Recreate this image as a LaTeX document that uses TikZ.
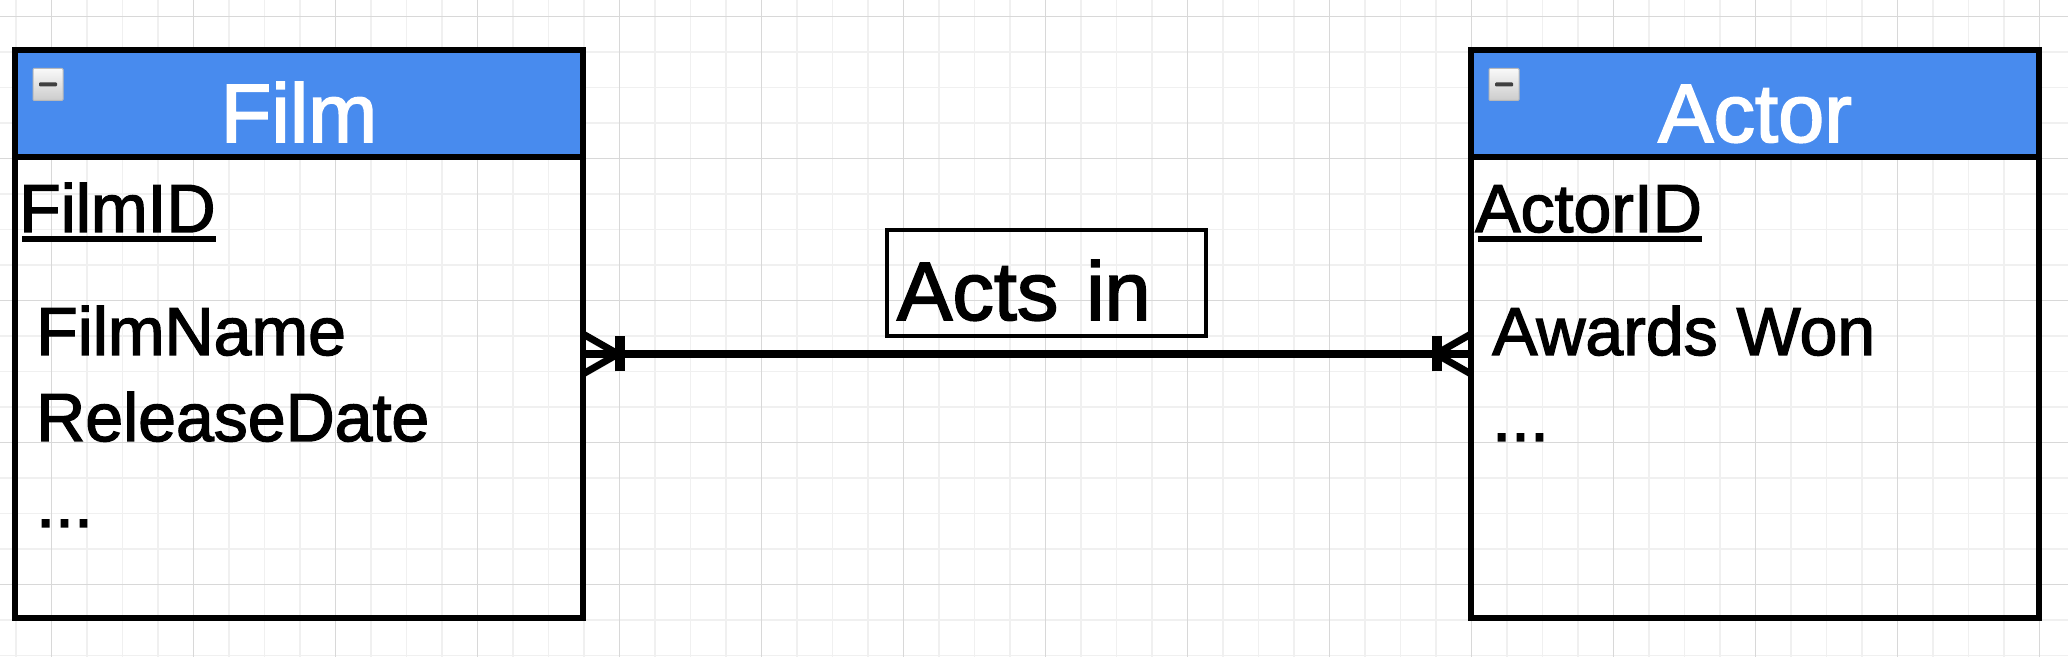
\documentclass[tikz,border=0pt]{standalone}
\usepackage{fontspec}
\setmainfont{Liberation Sans}[FakeBold=2]
\usetikzlibrary{positioning}
\definecolor{headblue}{RGB}{72,139,238}
\definecolor{minorgray}{RGB}{240,240,240}
\definecolor{majorgray}{RGB}{216,216,216}
\newcommand{\hdfont}{\fontsize{83}{90}\selectfont}
\newcommand{\atfont}{\fontsize{68}{80}\selectfont}
\tikzset{
  enthead/.style={draw, line width=6pt, fill=headblue, minimum width=568pt, minimum height=107pt, inner sep=0pt, outer sep=0pt},
  entbody/.style={draw, line width=6pt, minimum width=568pt, minimum height=461pt, inner sep=0pt, outer sep=0pt},
  enttitle/.style={text=white, font=\hdfont, inner sep=0pt, anchor=base},
  attr/.style={font=\atfont, inner sep=0pt, anchor=base west},
  keyline/.style={line width=6pt},
  icon/.style={draw=gray!55, line width=1pt, top color=gray!5, bottom color=gray!40, minimum width=30pt, minimum height=32pt, inner sep=0pt, rounded corners=1pt,
    path picture={\fill[black!75] ([xshift=-9pt,yshift=-2pt]path picture bounding box.center) rectangle ++(18pt,4pt);}},
  relbox/.style={draw, line width=4pt, font=\hdfont, text width=299pt, align=left, inner xsep=10pt, inner ysep=0pt, text height=90pt, text depth=16pt},
  relline/.style={line width=8pt},
  crowfoot/.style={line width=7pt, line join=round},
  onebar/.style={line width=10pt}
}
\begin{document}
\begin{tikzpicture}[x=1pt, y=1pt]
  % Nền và lưới
  \useasboundingbox (0,0) rectangle (2068,656);
  \fill[white] (0,0) rectangle (2068,656);
  \begin{scope}
    \clip (0,0) rectangle (2068,656);
    \draw[minorgray, line width=1.5pt, step=35.5pt, xshift=15.8pt, yshift=0.7pt] (-40,-40) grid (2100,700);
    \draw[majorgray, line width=1.5pt, step=142pt, xshift=51.3pt, yshift=71.7pt] (-200,-200) grid (2100,700);
  \end{scope}

  % Thực thể Film
  \node[enthead] (filmhead) at (299,552.5) {};
  \node[entbody, below=0pt of filmhead] (filmbody) {};
  \node[enttitle] (filmtitle) at ([yshift=-38.5pt]filmhead.center) {Film};
  \node[icon] (filmicon) at ([xshift=33pt,yshift=-34.5pt]filmhead.north west) {};
  \node[attr] (filmkey) at ([xshift=4pt,yshift=-75pt]filmhead.south west) {FilmID};
  \node[attr] (filmname) at ([xshift=21pt,yshift=-198pt]filmhead.south west) {FilmName};
  \node[attr] (filmdate) at ([yshift=-86pt]filmname.base west) {ReleaseDate};
  \node[attr] (filmmore) at ([yshift=-86pt]filmdate.base west) {...};
  \draw[keyline] ([xshift=3pt,yshift=-7pt]filmkey.base west) -- ([yshift=-7pt]filmkey.base east);

  % Thực thể Actor
  \node[enthead, right=888pt of filmhead] (actorhead) {};
  \node[entbody, below=0pt of actorhead] (actorbody) {};
  \node[enttitle] (actortitle) at ([yshift=-38.5pt]actorhead.center) {Actor};
  \node[icon] (actoricon) at ([xshift=33pt,yshift=-34.5pt]actorhead.north west) {};
  \node[attr] (actorkey) at ([xshift=4pt,yshift=-75pt]actorhead.south west) {ActorID};
  \node[attr] (actorawards) at ([xshift=21pt,yshift=-198pt]actorhead.south west) {Awards Won};
  \node[attr] (actormore) at ([yshift=-86pt]actorawards.base west) {...};
  \draw[keyline] ([xshift=3pt,yshift=-7pt]actorkey.base west) -- ([yshift=-7pt]actorkey.base east);

  % Quan hệ
  \node[relbox] (actsin) at (1046.5,373) {Acts in};
  \coordinate (filmport) at ([yshift=33.5pt]filmbody.east);
  \coordinate (actorport) at ([yshift=33.5pt]actorbody.west);
  \draw[relline] (filmport) -- (actorport);

  % Ký hiệu chân quạ
  \draw[crowfoot] ([yshift=20pt]filmport) -- ([xshift=35pt]filmport) -- ([yshift=-20pt]filmport);
  \draw[onebar] ([xshift=37pt,yshift=-17.5pt]filmport) -- ([xshift=37pt,yshift=17.5pt]filmport);
  \draw[crowfoot] ([yshift=20pt]actorport) -- ([xshift=-35pt]actorport) -- ([yshift=-20pt]actorport);
  \draw[onebar] ([xshift=-34pt,yshift=-17.5pt]actorport) -- ([xshift=-34pt,yshift=17.5pt]actorport);
\end{tikzpicture}
\end{document}
